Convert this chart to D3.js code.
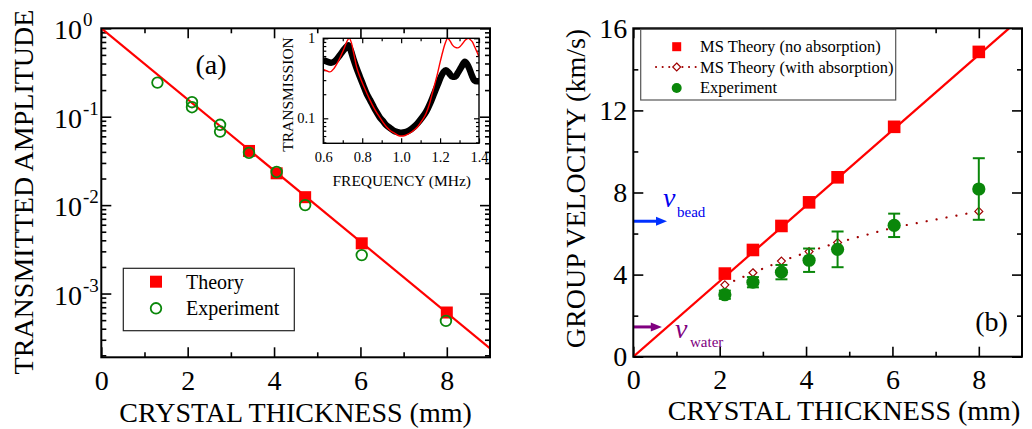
<!DOCTYPE html>
<html>
<head>
<meta charset="utf-8">
<script src="https://cdn.jsdelivr.net/npm/d3@7"></script>
<style>
body { margin: 0; background: #fff; }
svg, svg text { font-family: "Liberation Serif", "Times New Roman", serif; }
svg { display: block; }
</style>
</head>
<body>
<svg id="chart"></svg>
<script>
// ---- panel (a): transmitted amplitude vs thickness ----
var thickTheoryA = [3.42, 4.06, 4.72, 6.03, 8.0];
var ampTheoryA = [0.041, 0.0229, 0.0123, 0.0037, 0.00061];
var thickExpA = [1.3, 2.1, 2.1, 2.75, 2.75, 3.42, 4.06, 4.72, 6.03, 7.98];
var ampExpA = [0.243, 0.146, 0.128, 0.081, 0.068, 0.039, 0.0237, 0.0100, 0.00272, 0.00049];
var fitThickA = [0, 9];
var fitAmpA = [1, 2.4e-4];

// ---- inset: transmission spectrum ----
var freqExp = [0.60,0.62,0.64,0.66,0.686,0.71,0.728,0.74,0.754,0.77,0.788,0.805,0.822,0.84,0.856,0.873,0.89,0.907,0.924,0.945,0.967,0.985,1.0,1.02,1.043,1.065,1.085,1.105,1.128,1.15,1.17,1.187,1.204,1.218,1.23,1.245,1.264,1.28,1.29,1.31,1.327,1.34,1.35,1.362,1.375,1.39,1.4];
var transExp = [0.535,0.51,0.496,0.52,0.62,0.74,0.82,0.72,0.56,0.43,0.33,0.26,0.205,0.17,0.143,0.12,0.103,0.092,0.082,0.075,0.069,0.067,0.066,0.067,0.071,0.078,0.087,0.100,0.120,0.155,0.205,0.26,0.33,0.38,0.40,0.37,0.33,0.335,0.365,0.44,0.51,0.47,0.42,0.35,0.30,0.29,0.29];
var freqTheory = [0.60,0.62,0.634,0.655,0.676,0.695,0.71,0.722,0.733,0.745,0.758,0.771,0.788,0.805,0.822,0.839,0.86,0.882,0.903,0.924,0.945,0.967,0.985,1.0,1.02,1.043,1.065,1.085,1.105,1.128,1.145,1.16,1.175,1.187,1.2,1.213,1.226,1.239,1.252,1.264,1.278,1.29,1.303,1.316,1.33,1.345,1.356,1.366,1.38,1.39,1.4];
var transTheory = [0.41,0.39,0.38,0.42,0.51,0.64,0.78,0.92,1.0,0.87,0.62,0.44,0.33,0.26,0.21,0.17,0.135,0.11,0.092,0.0785,0.070,0.065,0.061,0.060,0.061,0.065,0.071,0.0785,0.092,0.115,0.15,0.205,0.28,0.365,0.50,0.67,0.86,1.0,0.92,0.82,0.77,0.76,0.79,0.86,0.95,1.0,0.96,0.90,0.76,0.67,0.59];

// ---- panel (b): group velocity vs thickness ----
var thickB = [2.12, 2.77, 3.43, 4.07, 4.73, 6.04, 8.0];
var velNoAbs = [4.05, 5.2, 6.37, 7.52, 8.74, 11.2, 14.85];
var velAbs = [3.5, 4.09, 4.66, 5.12, 5.56, 6.3, 7.08];
var velExp = [3.02, 3.63, 4.12, 4.7, 5.23, 6.4, 8.17];
var velErr = [0.2, 0.25, 0.35, 0.57, 0.87, 0.57, 1.5];
var fitThickB = [0, 8.7];
var fitVelB = [0, 16];
var vBead = 6.6, vWater = 1.45;

var W = 1032, H = 429;
var RED = "#ff0000", GREEN = "#0a870a", DARKRED = "#a00000";
var SERIF = "'Liberation Serif', 'Times New Roman', serif";

var svg = d3.select("#chart").attr("width", W).attr("height", H);

function addAxis(parent, axis, tx, ty, sw) {
	var a = parent.append("g").attr("transform", "translate(" + tx + "," + ty + ")").call(axis);
	a.select(".domain").remove();
	a.attr("font-family", SERIF).attr("font-size", null);
	a.selectAll("line").attr("stroke", "#000").attr("stroke-width", sw || 1.6);
	return a;
}

// draws inward ticks on all four sides
function frameTicks(g, x, y, xMaj, xMin, yMaj, yMin, maj, mino, sw) {
	var x0 = x.range()[0], x1 = x.range()[1], y0 = y.range()[0], y1 = y.range()[1];
	addAxis(g, d3.axisBottom(x).tickValues(xMaj).tickSize(-maj).tickFormat(""), 0, y0, sw);
	addAxis(g, d3.axisBottom(x).tickValues(xMin).tickSize(-mino).tickFormat(""), 0, y0, sw);
	addAxis(g, d3.axisTop(x).tickValues(xMaj).tickSize(-maj).tickFormat(""), 0, y1, sw);
	addAxis(g, d3.axisTop(x).tickValues(xMin).tickSize(-mino).tickFormat(""), 0, y1, sw);
	addAxis(g, d3.axisLeft(y).tickValues(yMaj).tickSize(-maj).tickFormat(""), x0, 0, sw);
	addAxis(g, d3.axisLeft(y).tickValues(yMin).tickSize(-mino).tickFormat(""), x0, 0, sw);
	addAxis(g, d3.axisRight(y).tickValues(yMaj).tickSize(-maj).tickFormat(""), x1, 0, sw);
	addAxis(g, d3.axisRight(y).tickValues(yMin).tickSize(-mino).tickFormat(""), x1, 0, sw);
}

function logMinor(lo, hi) {
	var out = [];
	for (var e = -5; e <= 0; e++) {
		for (var m = 2; m <= 9; m++) {
			var v = m * Math.pow(10, e);
			if (v >= lo && v <= hi) out.push(v);
		}
	}
	return out;
}

/* ================= panel (a) ================= */
var xA = d3.scaleLinear().domain([0, 9]).range([101.3, 490]);
var yA = d3.scaleLog().domain([1.9e-4, 1]).range([357.3, 28.3]);
var gA = svg.append("g");

svg.append("clipPath").attr("id", "clipA").append("rect")
	.attr("x", 101.3).attr("y", 28.3).attr("width", 388.7).attr("height", 329);

frameTicks(gA, xA, yA, [0, 2, 4, 6, 8], [1, 3, 5, 7], [1, 0.1, 0.01, 0.001], logMinor(1.9e-4, 1), 10, 5, 1.6);

var xlabA = addAxis(gA, d3.axisBottom(xA).tickValues([0, 2, 4, 6, 8]).tickSize(0).tickPadding(13), 0, 357.3);
xlabA.selectAll("text").attr("font-size", 28).attr("fill", "#000");

var yMajA = [1, 0.1, 0.01, 0.001];
gA.selectAll(".ylab10").data(yMajA).join("text")
	.attr("x", 82).attr("y", d => yA(d) + 11).attr("text-anchor", "end")
	.attr("font-size", 28).text("10");
gA.selectAll(".ylabexp").data(yMajA).join("text")
	.attr("x", 83).attr("y", d => yA(d) - 2)
	.attr("font-size", 19).text(d => String(Math.round(Math.log10(d))));

// fit line
var lineA = d3.line().x(d => xA(d[0])).y(d => yA(d[1]));
gA.append("path").datum(d3.zip(fitThickA, fitAmpA)).attr("clip-path", "url(#clipA)")
	.attr("d", lineA).attr("fill", "none").attr("stroke", RED).attr("stroke-width", 2.2);

gA.selectAll(".sqA").data(d3.zip(thickTheoryA, ampTheoryA)).join("rect")
	.attr("x", d => xA(d[0]) - 6).attr("y", d => yA(d[1]) - 6)
	.attr("width", 12).attr("height", 12).attr("fill", RED);

gA.selectAll(".ciA").data(d3.zip(thickExpA, ampExpA)).join("circle")
	.attr("cx", d => xA(d[0])).attr("cy", d => yA(d[1])).attr("r", 5.3)
	.attr("fill", "none").attr("stroke", GREEN).attr("stroke-width", 1.8);

gA.append("rect").attr("x", 101.3).attr("y", 28.3).attr("width", 388.7).attr("height", 329)
	.attr("fill", "none").attr("stroke", "#000").attr("stroke-width", 2);

gA.append("text").attr("x", 211).attr("y", 74).attr("text-anchor", "middle")
	.attr("font-size", 28).text("(a)");

gA.append("text").attr("transform", "translate(33,192) rotate(-90)")
	.attr("text-anchor", "middle").attr("font-size", 28).text("TRANSMITTED AMPLITUDE");
gA.append("text").attr("x", 295.6).attr("y", 422).attr("text-anchor", "middle")
	.attr("font-size", 28).text("CRYSTAL THICKNESS (mm)");

// legend (a)
var legA = gA.append("g");
legA.append("rect").attr("x", 123.3).attr("y", 268.3).attr("width", 171).attr("height", 62.4)
	.attr("fill", "#fff").attr("stroke", "#222").attr("stroke-width", 1.2);
legA.append("rect").attr("x", 150).attr("y", 275.7).attr("width", 12).attr("height", 12).attr("fill", RED);
legA.append("circle").attr("cx", 156).attr("cy", 308.3).attr("r", 5.3)
	.attr("fill", "none").attr("stroke", GREEN).attr("stroke-width", 1.8);
legA.append("text").attr("x", 186).attr("y", 288.5).attr("font-size", 20).text("Theory");
legA.append("text").attr("x", 186).attr("y", 314.8).attr("font-size", 20).text("Experiment");

/* ================= inset ================= */
var xI = d3.scaleLinear().domain([0.6, 1.4]).range([323.3, 479]);
var yI = d3.scaleLog().domain([0.0487, 1]).range([143.3, 38.3]);
var gI = svg.append("g");

gI.append("rect").attr("x", 323.3).attr("y", 38.3).attr("width", 155.7).attr("height", 105).attr("fill", "#fff");
svg.append("clipPath").attr("id", "clipI").append("rect")
	.attr("x", 323.3).attr("y", 38.3).attr("width", 155.7).attr("height", 105);

frameTicks(gI, xI, yI, [0.6, 0.8, 1.0, 1.2, 1.4], [0.7, 0.9, 1.1, 1.3], [1, 0.1], logMinor(0.0487, 1), 5, 3, 1.2);

var lineI = d3.line().x(d => xI(d[0])).y(d => yI(d[1])).curve(d3.curveMonotoneX);
gI.append("path").datum(d3.zip(freqExp, transExp)).attr("clip-path", "url(#clipI)")
	.attr("d", lineI).attr("fill", "none").attr("stroke", "#000").attr("stroke-width", 6.5)
	.attr("stroke-linejoin", "round");
gI.append("path").datum(d3.zip(freqTheory, transTheory)).attr("clip-path", "url(#clipI)")
	.attr("d", lineI).attr("fill", "none").attr("stroke", RED).attr("stroke-width", 1.4);

gI.append("rect").attr("x", 323.3).attr("y", 38.3).attr("width", 155.7).attr("height", 105)
	.attr("fill", "none").attr("stroke", "#000").attr("stroke-width", 1.4);

var xlabI = addAxis(gI, d3.axisBottom(xI).tickValues([0.6, 0.8, 1.0, 1.2, 1.4]).tickSize(0).tickPadding(8).tickFormat(d3.format(".1f")), 0, 143.3);
xlabI.selectAll("text").attr("font-size", 14.5).attr("fill", "#000");
var ylabI = addAxis(gI, d3.axisLeft(yI).tickValues([1, 0.1]).tickSize(0).tickPadding(8).tickFormat(d => d === 1 ? "1" : "0.1"), 323.3, 0);
ylabI.selectAll("text").attr("font-size", 14.5).attr("fill", "#000");

gI.append("text").attr("x", 401.7).attr("y", 186).attr("text-anchor", "middle")
	.attr("font-size", 15.5).text("FREQUENCY (MHz)");
gI.append("text").attr("transform", "translate(292.5,94.5) rotate(-90)")
	.attr("text-anchor", "middle").attr("font-size", 15.5).text("TRANSMISSION");

/* ================= panel (b) ================= */
var xB = d3.scaleLinear().domain([0, 9]).range([633.3, 1022]);
var yB = d3.scaleLinear().domain([0, 16]).range([356.7, 28.3]);
var gB = svg.append("g");

svg.append("clipPath").attr("id", "clipB").append("rect")
	.attr("x", 633.3).attr("y", 28.3).attr("width", 388.7).attr("height", 328.4);

frameTicks(gB, xB, yB, [0, 2, 4, 6, 8], [1, 3, 5, 7], [0, 4, 8, 12, 16], [2, 6, 10, 14], 10, 5, 1.6);

var xlabB = addAxis(gB, d3.axisBottom(xB).tickValues([0, 2, 4, 6, 8]).tickSize(0).tickPadding(12), 0, 356.7);
xlabB.selectAll("text").attr("font-size", 28).attr("fill", "#000");
var ylabB = addAxis(gB, d3.axisLeft(yB).tickValues([0, 4, 8, 12, 16]).tickSize(0).tickPadding(6), 633.3, 0);
ylabB.selectAll("text").attr("font-size", 28).attr("fill", "#000");

var lineB = d3.line().x(d => xB(d[0])).y(d => yB(d[1]));
gB.append("path").datum(d3.zip(fitThickB, fitVelB)).attr("clip-path", "url(#clipB)")
	.attr("d", lineB).attr("fill", "none").attr("stroke", RED).attr("stroke-width", 2.2);

gB.append("path").datum(d3.zip(thickB, velAbs)).attr("d", lineB)
	.attr("fill", "none").attr("stroke", DARKRED).attr("stroke-width", 2.2)
	.attr("stroke-dasharray", "0.1,10").attr("stroke-linecap", "round");

gB.selectAll(".sqB").data(d3.zip(thickB, velNoAbs)).join("rect")
	.attr("x", d => xB(d[0]) - 6.3).attr("y", d => yB(d[1]) - 6.3)
	.attr("width", 12.6).attr("height", 12.6).attr("fill", RED);

var diamond = d3.symbol().type(d3.symbolDiamond2).size(40);
gB.selectAll(".diB").data(d3.zip(thickB, velAbs)).join("path")
	.attr("transform", d => "translate(" + xB(d[0]) + "," + yB(d[1]) + ")")
	.attr("d", diamond).attr("fill", "#fff").attr("stroke", DARKRED).attr("stroke-width", 1.2);

var errB = gB.selectAll(".errB").data(d3.zip(thickB, velExp, velErr)).join("g")
	.attr("stroke", GREEN).attr("stroke-width", 2);
errB.append("line").attr("x1", d => xB(d[0])).attr("x2", d => xB(d[0]))
	.attr("y1", d => yB(d[1] - d[2])).attr("y2", d => yB(d[1] + d[2]));
errB.append("line").attr("x1", d => xB(d[0]) - 6).attr("x2", d => xB(d[0]) + 6)
	.attr("y1", d => yB(d[1] - d[2])).attr("y2", d => yB(d[1] - d[2]));
errB.append("line").attr("x1", d => xB(d[0]) - 6).attr("x2", d => xB(d[0]) + 6)
	.attr("y1", d => yB(d[1] + d[2])).attr("y2", d => yB(d[1] + d[2]));

gB.selectAll(".ciB").data(d3.zip(thickB, velExp)).join("circle")
	.attr("cx", d => xB(d[0])).attr("cy", d => yB(d[1])).attr("r", 6.6).attr("fill", GREEN);

// velocity arrows
function arrow(yv, xEnd, color) {
	var y = yB(yv), x0 = xB(0), x1 = xB(xEnd);
	gB.append("line").attr("x1", x0).attr("x2", x1 - 8).attr("y1", y).attr("y2", y)
		.attr("stroke", color).attr("stroke-width", 3);
	gB.append("path").attr("d", "M" + (x1 - 11) + "," + (y - 4.5) + "L" + x1 + "," + y + "L" + (x1 - 11) + "," + (y + 4.5) + "Z")
		.attr("fill", color);
}
arrow(vBead, 0.78, "#0030ff");
arrow(vWater, 0.66, "#800080");

gB.append("text").attr("x", 663).attr("y", 207).attr("font-size", 28).attr("font-style", "italic")
	.attr("fill", "#0000ee").text("v");
gB.append("text").attr("x", 677).attr("y", 217).attr("font-size", 15).attr("fill", "#0000ee").text("bead");
gB.append("text").attr("x", 675).attr("y", 338).attr("font-size", 28).attr("font-style", "italic")
	.attr("fill", "#800080").text("v");
gB.append("text").attr("x", 690).attr("y", 346.5).attr("font-size", 15).attr("fill", "#800080").text("water");

gB.append("rect").attr("x", 633.3).attr("y", 28.3).attr("width", 388.7).attr("height", 328.4)
	.attr("fill", "none").attr("stroke", "#000").attr("stroke-width", 2);

gB.append("text").attr("x", 991.5).attr("y", 331).attr("text-anchor", "middle")
	.attr("font-size", 28).text("(b)");

gB.append("text").attr("transform", "translate(585,188.5) rotate(-90)")
	.attr("text-anchor", "middle").attr("font-size", 28).text("GROUP VELOCITY (km/s)");
gB.append("text").attr("x", 844).attr("y", 420).attr("text-anchor", "middle")
	.attr("font-size", 28).text("CRYSTAL THICKNESS (mm)");

// legend (b)
var legB = gB.append("g");
legB.append("rect").attr("x", 640.7).attr("y", 29.3).attr("width", 255).attr("height", 70.7)
	.attr("fill", "#fff").attr("stroke", "#555").attr("stroke-width", 1.2);
legB.append("rect").attr("x", 672.2).attr("y", 42.2).attr("width", 9).attr("height", 9).attr("fill", RED);
legB.append("line").attr("x1", 656).attr("x2", 697).attr("y1", 67).attr("y2", 67)
	.attr("stroke", DARKRED).attr("stroke-width", 2).attr("stroke-dasharray", "0.1,6.5").attr("stroke-linecap", "round");
legB.append("path").attr("transform", "translate(676.7,67)").attr("d", diamond)
	.attr("fill", "#fff").attr("stroke", DARKRED).attr("stroke-width", 1.2);
legB.append("circle").attr("cx", 676.7).attr("cy", 88).attr("r", 5).attr("fill", GREEN);
legB.append("text").attr("x", 700).attr("y", 52).attr("font-size", 16.5).text("MS Theory (no absorption)");
legB.append("text").attr("x", 700).attr("y", 72.5).attr("font-size", 16.5).text("MS Theory (with absorption)");
legB.append("text").attr("x", 700).attr("y", 93).attr("font-size", 16.5).text("Experiment");
</script>
</body>
</html>
